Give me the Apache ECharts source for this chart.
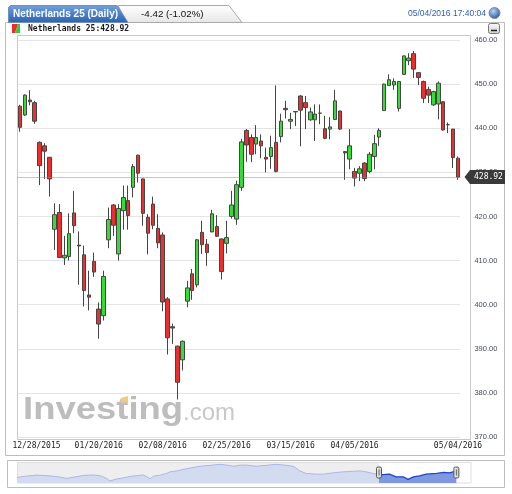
<!DOCTYPE html>
<html>
<head>
<meta charset="utf-8">
<script src="https://cdn.jsdelivr.net/npm/echarts@6/dist/echarts.min.js"></script>
<style>
html,body{margin:0;padding:0;background:#fff;}
#c{width:512px;height:494px;}
</style>
</head>
<body>
<div id="c"></div>
<script>
// ---------- data ----------
const instrument = 'Netherlands 25';
const timeframe = 'Daily';
const lastPrice = 428.92;
const change = -4.42;
const changePct = -1.02;
const timestamp = '05/04/2016 17:40:04';

const categories = [
'12/28/2015','12/29/2015','12/30/2015','12/31/2015',
'01/04/2016','01/05/2016','01/06/2016','01/07/2016','01/08/2016',
'01/11/2016','01/12/2016','01/13/2016','01/14/2016','01/15/2016',
'01/18/2016','01/19/2016','01/20/2016','01/21/2016','01/22/2016',
'01/25/2016','01/26/2016','01/27/2016','01/28/2016','01/29/2016',
'02/01/2016','02/02/2016','02/03/2016','02/04/2016','02/05/2016',
'02/08/2016','02/09/2016','02/10/2016','02/11/2016','02/12/2016',
'02/15/2016','02/16/2016','02/17/2016','02/18/2016','02/19/2016',
'02/22/2016','02/23/2016','02/24/2016','02/25/2016','02/26/2016',
'02/29/2016','03/01/2016','03/02/2016','03/03/2016','03/04/2016',
'03/07/2016','03/08/2016','03/09/2016','03/10/2016','03/11/2016',
'03/14/2016','03/15/2016','03/16/2016','03/17/2016','03/18/2016',
'03/21/2016','03/22/2016','03/23/2016','03/24/2016',
'03/29/2016','03/30/2016','03/31/2016','04/01/2016',
'04/04/2016','04/05/2016','04/06/2016','04/07/2016','04/08/2016',
'04/11/2016','04/12/2016','04/13/2016','04/14/2016','04/15/2016',
'04/18/2016','04/19/2016','04/20/2016','04/21/2016','04/22/2016',
'04/25/2016','04/26/2016','04/27/2016','04/28/2016','04/29/2016',
'05/02/2016','05/03/2016','05/04/2016'];

const openVals = [
445.0,443.0,446.4,445.8,436.8,436.0,433.4,417.1,420.9,410.6,
410.9,420.8,413.5,411.3,402.2,409.8,399.0,397.5,414.7,422.6,
411.5,421.3,423.6,426.6,433.9,428.5,419.8,422.8,417.3,415.8,
401.3,395.0,390.6,387.5,400.8,407.0,404.5,416.4,413.7,416.5,
417.7,414.9,413.9,420.0,419.4,426.6,439.5,437.9,436.4,437.1,
433.4,433.6,436.8,438.1,444.5,441.6,443.7,447.3,445.8,441.9,
441.9,443.4,439.9,439.8,442.0,443.9,434.7,433.0,430.2,429.8,
432.1,430.2,433.6,438.0,444.0,449.7,449.8,444.5,452.2,455.3,
456.9,452.6,450.6,448.8,445.3,445.5,446.0,440.8,439.8,433.2];
const closeVals = [
440.2,447.5,446.0,441.6,431.5,434.8,428.5,420.4,410.7,411.2,
416.1,417.9,413.3,403.2,401.7,407.4,395.6,406.4,419.3,418.0,
421.8,424.3,420.2,431.3,429.8,420.7,416.2,418.0,414.0,400.6,
392.5,394.7,382.4,391.7,403.8,403.2,414.7,413.6,411.8,420.6,
415.5,407.5,415.2,422.6,427.2,436.9,436.2,434.1,437.9,436.0,
433.0,435.6,430.2,441.6,444.2,442.0,443.8,444.1,444.7,443.7,
443.2,443.4,437.7,440.3,446.2,439.8,434.4,436.0,428.7,430.8,
428.6,434.1,436.5,439.5,450.0,451.0,450.6,450.6,456.4,455.9,
453.4,451.5,446.8,447.5,448.3,450.2,439.6,440.8,433.34,428.92];
const lowVals = [
439.2,442.8,445.2,441.0,427.1,428.5,424.5,412.4,410.6,409.0,
410.0,416.2,404.5,399.6,398.7,406.3,392.3,396.4,412.8,415.6,
410.0,417.0,417.0,424.3,427.7,417.9,411.4,417.1,412.8,398.5,
388.7,391.1,378.5,385.1,399.4,401.1,403.9,411.5,408.8,416.4,
415.4,405.7,411.6,419.5,418.1,425.8,432.4,432.3,434.1,433.2,
430.0,430.8,430.0,436.8,442.2,439.8,440.5,435.9,439.8,441.7,
437.1,440.9,437.5,437.5,441.9,439.6,428.3,430.7,426.8,428.0,
428.0,429.8,430.7,436.0,444.0,449.6,448.7,443.8,452.1,454.3,
451.4,449.8,445.7,445.7,445.1,442.0,439.5,438.9,431.0,428.3];
const highVals = [
445.3,447.7,448.6,446.2,437.0,436.6,433.5,423.0,422.8,415.6,
420.7,425.8,416.6,413.4,407.7,411.8,400.5,407.7,422.0,422.8,
422.8,427.0,427.0,431.9,434.0,428.6,420.5,424.5,420.5,416.4,
401.7,395.7,390.7,391.9,405.4,408.1,414.9,419.0,414.9,421.5,
420.3,415.0,419.0,425.8,428.1,437.6,439.8,438.6,440.7,438.6,
435.6,438.3,449.7,443.3,446.2,443.5,443.9,447.5,447.3,444.7,
445.4,445.4,442.8,442.5,448.7,444.0,434.8,439.8,431.0,431.4,
432.3,434.6,438.5,440.0,450.1,452.2,451.3,450.7,456.5,457.0,
457.5,452.7,450.8,449.4,448.5,450.6,446.1,441.3,439.8,433.6];

const tickLabels = ['12/28/2015','01/20/2016','02/08/2016','02/25/2016','03/15/2016','04/05/2016','05/04/2016'];
const yMin = 370, yMax = 460, yStep = 10;

// navigator (long-range overview)
const navDays = [0,11,23,38,48,58,68,77,89,97,104,108,114,124,135,147,151,155,159,167,
174,178,186,198,213,225,236,244,252,260,267,278,290,302,313,321,329,336,348,356,
368,379,391,399,406,414,421,426,433,441,449,455,461,468,476,488,496,503,511];
const navValues = [395,402,407,403,398,390,398,405,408,403,390,376,385,393,402,408,398,388,402,407,
416,424,429,441,453,458,463,459,453,459,459,453,458,463,458,453,429,416,412,412,
419,424,427,429,424,416,410,410,412,398,398,385,398,403,412,416,421,419,429];
const navSelStart = 421;
const navMaxDay = 528;
const navMin = 366, navMax = 470;

// ---------- chart ----------
const chart = echarts.init(document.getElementById('c'), null, {renderer: 'canvas'});
const ohlc = categories.map((d, i) => [openVals[i], closeVals[i], lowVals[i], highVals[i]]);
const navAll = navDays.map((d, i) => [d, navValues[i]]);
const navBefore = navAll.filter(p => p[0] <= navSelStart);
const navSel = navAll.filter(p => p[0] >= navSelStart);

chart.setOption({
  animation: false,
  backgroundColor: '#ffffff',
  grid: [
    {left: 17.5, right: 51.6, top: 40, bottom: 57},
    {left: 17, right: 41, top: 463, bottom: 11}
  ],
  xAxis: [
    {
      type: 'category', gridIndex: 0, data: categories, boundaryGap: true,
      axisLine: {show: false}, axisTick: {show: false}, splitLine: {show: false},
      axisLabel: {
        interval: (i, v) => tickLabels.indexOf(v) >= 0,
        formatter: v => v === categories[0] ? '{f|' + v + '}' : v,
        rich: {f: {padding: [0, 0, 0, 33], fontFamily: 'DejaVu Sans Mono', fontSize: 8, color: '#222'}},
        fontFamily: 'DejaVu Sans Mono', fontSize: 8, color: '#222', margin: 5
      }
    },
    {type: 'value', gridIndex: 1, min: 0, max: navMaxDay, show: false}
  ],
  yAxis: [
    {
      type: 'value', gridIndex: 0, position: 'right', min: yMin, max: yMax, interval: yStep,
      axisLine: {show: false}, axisTick: {show: false},
      splitLine: {lineStyle: {color: '#e4e4e4', width: 1}},
      axisLabel: {formatter: v => v.toFixed(2), margin: 14, fontSize: 7.5,
        fontFamily: 'Liberation Sans', color: '#444a55'}
    },
    {type: 'value', gridIndex: 1, min: navMin, max: navMax, show: false}
  ],
  series: [
    {
      type: 'candlestick', xAxisIndex: 0, yAxisIndex: 0, data: ohlc, barWidth: 4,
      itemStyle: {color: '#33dd33', color0: '#ee2d2d', borderColor: '#454545', borderColor0: '#454545', borderWidth: 1},
      markLine: {
        silent: true, symbol: ['none', 'none'], label: {show: false},
        lineStyle: {color: '#8a8a8a', type: 'dotted', width: 1},
        data: [{yAxis: lastPrice}]
      }
    },
    {
      type: 'line', xAxisIndex: 1, yAxisIndex: 1, data: navBefore, symbol: 'none',
      lineStyle: {color: '#aab8e6', width: 1}, areaStyle: {color: '#d3dbf0', opacity: 1}
    },
    {
      type: 'line', xAxisIndex: 1, yAxisIndex: 1, data: navSel, symbol: 'none',
      lineStyle: {color: '#1f45c8', width: 1.3}, areaStyle: {color: '#7e98e2', opacity: 1}
    }
  ]
});

// ---------- decorations ----------
const pY = chart.convertToPixel({yAxisIndex: 0}, lastPrice);
const selX = chart.convertToPixel({xAxisIndex: 1}, navSelStart);
const endX = chart.convertToPixel({xAxisIndex: 1}, navDays[navDays.length - 1]);
const LG = echarts.graphic.LinearGradient;
const RG = echarts.graphic.RadialGradient;

function handle(x) {
  return [
    {type: 'rect', z: 20, shape: {x: x - 2.5, y: 467, width: 5, height: 11, r: 1.5},
      style: {fill: new LG(0, 0, 1, 0, [{offset: 0, color: '#f4f4f4'}, {offset: 1, color: '#c8c8c8'}]), stroke: '#555', lineWidth: 1}},
    {type: 'line', z: 21, shape: {x1: x, y1: 469.5, x2: x, y2: 475.5}, style: {stroke: '#666', lineWidth: 1}}
  ];
}

const elements = [
  // panel
  {type: 'rect', z: -10, shape: {x: 5.5, y: 22.5, width: 499, height: 433}, style: {fill: '#fff', stroke: '#bdbdbd', lineWidth: 1}},
  // tab 2 (change)
  {type: 'polygon', z: -5, shape: {points: [[118, 5.5], [229, 5.5], [242, 22.5], [127, 22.5]]},
    style: {fill: new LG(0, 0, 0, 1, [{offset: 0, color: '#ffffff'}, {offset: 1, color: '#e6e6e6'}]), stroke: '#aaaaaa', lineWidth: 1}},
  // tab 1 (title)
  {type: 'polygon', z: -4, shape: {points: [[8.5, 22.5], [8.5, 7.5], [10.5, 5.5], [117, 5.5], [128, 22.5]]},
    style: {fill: new LG(0, 0, 0, 1, [{offset: 0, color: '#77a3dc'}, {offset: 0.5, color: '#4a7fc8'}, {offset: 1, color: '#2c62ad'}]), stroke: '#6e8fbf', lineWidth: 1}},
  {type: 'text', z: 5, x: 13, y: 14.5, style: {text: instrument + ' (' + timeframe + ')', fill: '#ffffff',
    fontSize: 10, fontWeight: 'bold', fontFamily: 'Liberation Sans', verticalAlign: 'middle'}},
  {type: 'text', z: 5, x: 141, y: 14.5, style: {text: change.toFixed(2) + ' (' + changePct.toFixed(2) + '%)', fill: '#111',
    fontSize: 9.8, fontFamily: 'Liberation Sans', verticalAlign: 'middle'}},
  {type: 'text', z: 5, x: 486, y: 14, style: {text: timestamp, fill: '#2d5fb0',
    fontSize: 8.5, fontFamily: 'Liberation Sans', align: 'right', verticalAlign: 'middle'}},
  {type: 'circle', z: 5, shape: {cx: 494.5, cy: 13, r: 5.5},
    style: {fill: new RG(0.4, 0.35, 0.7, [{offset: 0, color: '#b9d3f3'}, {offset: 1, color: '#1d4d9e'}]), stroke: '#8a8a8a', lineWidth: 1}},
  // row 2
  {type: 'polygon', z: 5, shape: {points: [[12, 24], [18, 24], [15, 33], [12, 33]]}, style: {fill: '#ee2d2d'}},
  {type: 'polygon', z: 5, shape: {points: [[18, 24], [20, 24], [20, 33], [15, 33]]}, style: {fill: '#33cc33'}},
  {type: 'text', z: 5, x: 28, y: 29, style: {text: instrument + ':' + lastPrice.toFixed(2), fill: '#1a1a1a',
    fontSize: 8, fontWeight: 'bold', fontFamily: 'DejaVu Sans Mono', verticalAlign: 'middle'}},
  {type: 'rect', z: 5, shape: {x: 488.5, y: 23.5, width: 11, height: 10, r: 2},
    style: {fill: new LG(0, 0, 0, 1, [{offset: 0, color: '#fbfbfb'}, {offset: 1, color: '#cfcfcf'}]), stroke: '#777', lineWidth: 1}},
  {type: 'line', z: 6, shape: {x1: 491, y1: 30.5, x2: 497, y2: 30.5}, style: {stroke: '#222', lineWidth: 1.5}},
  // plot frame
  {type: 'rect', z: -3, shape: {x: 17.5, y: 35.5, width: 453, height: 404}, style: {fill: 'none', stroke: '#c8c8c8', lineWidth: 1}},
  // watermark
  {type: 'text', z: 0, x: 23, y: 410.5, scaleX: 1.14, style: {text: 'Investing', fill: '#bdbdbd',
    fontSize: 32, fontWeight: 'bold', fontFamily: 'Liberation Sans', verticalAlign: 'middle'}},
  {type: 'text', z: 0, x: 183, y: 413.5, style: {text: '.com', fill: '#c8c8c8',
    fontSize: 24, fontFamily: 'Liberation Sans', verticalAlign: 'middle'}},
  {type: 'polygon', z: 1, shape: {points: [[121, 398], [128, 396], [128, 402], [121, 403]]}, style: {fill: '#f6c77d'}},
  // price marker
  {type: 'polygon', z: 30, shape: {points: [[464.5, pY], [470, pY - 7], [505, pY - 7], [505, pY + 7], [470, pY + 7]]}, style: {fill: '#3a3a3a'}},
  {type: 'text', z: 31, x: 474, y: pY, style: {text: lastPrice.toFixed(2), fill: '#ffffff',
    fontSize: 8, fontFamily: 'DejaVu Sans Mono', verticalAlign: 'middle'}},
  // navigator
  {type: 'rect', z: -10, shape: {x: 7.5, y: 460.5, width: 497, height: 27}, style: {fill: '#fff', stroke: '#bdbdbd', lineWidth: 1}},
  {type: 'rect', z: -9, shape: {x: 17, y: 462.5, width: selX - 17, height: 20.5}, style: {fill: '#eeeeee'}},
  {type: 'rect', z: -8, shape: {x: 17.5, y: 462.5, width: 453.5, height: 20.5}, style: {fill: 'none', stroke: '#dedede', lineWidth: 1}}
].concat(handle(selX)).concat(handle(endX));

chart.setOption({graphic: {elements: elements}});
</script>
</body>
</html>
